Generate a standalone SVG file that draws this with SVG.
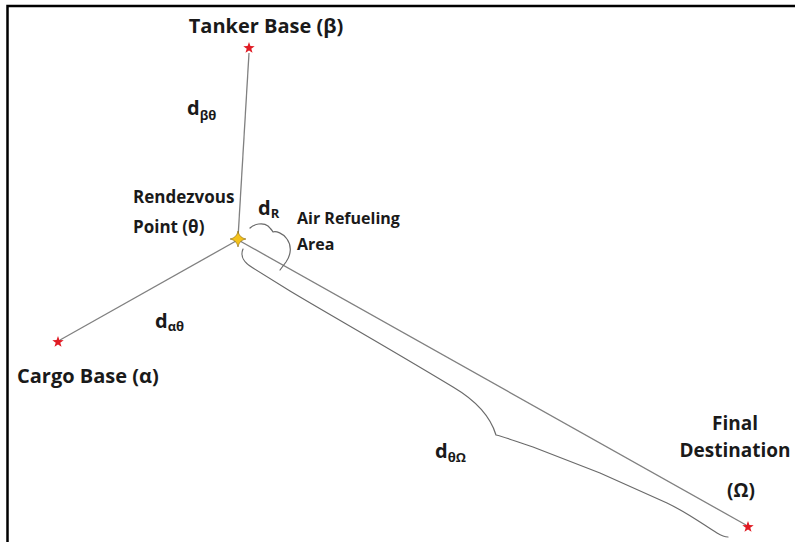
<svg xmlns="http://www.w3.org/2000/svg" width="795" height="542" viewBox="0 0 795 542">
<defs>
<style>
.t{font-family:"Open Sans","Liberation Sans",sans-serif;font-weight:bold;fill:#1a1a1a}
.sub{font-size:13px}
.ln{stroke:#808080;stroke-width:1.3;fill:none}
.br{stroke:#6a6a6a;stroke-width:1.2;fill:none;stroke-linejoin:round;stroke-linecap:round}
</style>
<path id="star5" d="M0,-6 L1.41,-1.94 5.71,-1.85 2.28,0.74 3.53,4.85 0,2.4 -3.53,4.85 -2.28,0.74 -5.71,-1.85 -1.41,-1.94 Z" fill="#e01b24"/>
<path id="star4" d="M0,-8 Q1.2,-1.2 8,0 Q1.2,1.2 0,8 Q-1.2,1.2 -8,0 Q-1.2,-1.2 0,-8 Z" fill="#f4c21b" stroke="#8a6a10" stroke-width="0.6"/>
</defs>
<rect width="795" height="542" fill="#fff"/>
<path d="M7.5,542 V6 H795" fill="none" stroke="#000" stroke-width="2.5"/>

<g id="connectors">
<line class="ln" x1="249" y1="53" x2="238" y2="238"/>
<line class="ln" x1="60" y1="340" x2="236" y2="241"/>
<line class="ln" x1="240" y1="241" x2="746" y2="525"/>
<path class="br" d="M250,228 C254,224 263,222 268,226 C270,228 272,230 273,232 C276,231 283,233 287,239 C292,246 291,255 286,262 L280,270"/>
<path class="br" d="M243,249 C240,256 244,263 253,268 L290,291 C330,315 380,343 453,387 C475,400 490,415 496,435 C505,437 520,443 533,447 L600,473 L667,503 C690,514 705,526 717,533 C722,536 726,537 728,537"/>
</g>

<g id="tanker-base">
<use href="#star5" x="249" y="48"/>
<text class="t" x="266" y="33" font-size="20" text-anchor="middle">Tanker Base (β)</text>
</g>

<g id="rendezvous-point">
<use href="#star4" x="238" y="239"/>
<text class="t" x="133" y="203" font-size="17">Rendezvous</text>
<text class="t" x="133" y="233" font-size="17">Point (θ)</text>
</g>

<g id="cargo-base">
<use href="#star5" x="58" y="342"/>
<text class="t" x="17" y="383" font-size="20">Cargo Base (α)</text>
</g>

<g id="final-destination">
<use href="#star5" x="748" y="527"/>
<text class="t" x="735" y="430" font-size="19" text-anchor="middle">Final</text>
<text class="t" x="735" y="457" font-size="19" text-anchor="middle">Destination</text>
<text class="t" x="741" y="497" font-size="19" text-anchor="middle">(Ω)</text>
</g>

<g id="air-refueling-area">
<text class="t" x="297" y="224" font-size="16">Air Refueling</text>
<text class="t" x="297" y="250" font-size="16">Area</text>
</g>

<g id="labels">
<text class="t" x="187" y="115" font-size="20">d<tspan class="sub" dy="5">βθ</tspan></text>
<text class="t" x="258" y="215" font-size="20">d<tspan class="sub" dy="3">R</tspan></text>
<text class="t" x="155" y="328" font-size="20">d<tspan class="sub" dy="3">αθ</tspan></text>
<text class="t" x="435" y="458" font-size="20">d<tspan class="sub" dy="4">θΩ</tspan></text>
</g>
</svg>
